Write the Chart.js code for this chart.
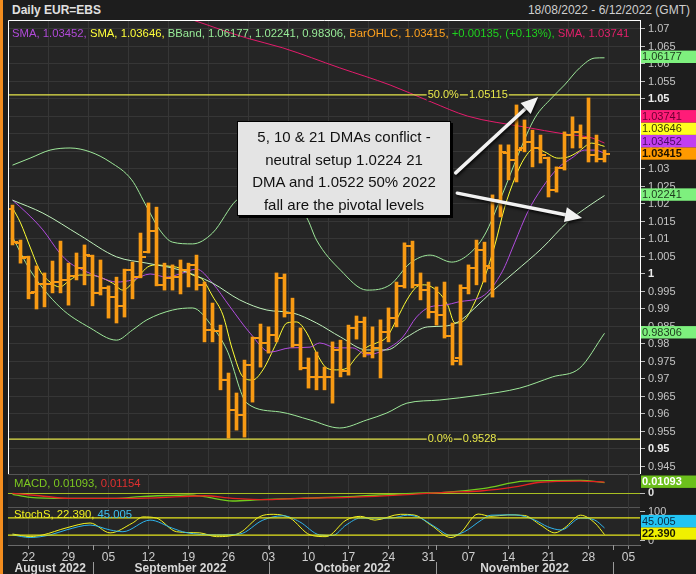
<!DOCTYPE html>
<html>
<head>
<meta charset="utf-8">
<script src="https://cdn.jsdelivr.net/npm/chart.js@4.4.1/dist/chart.umd.min.js"></script>
<style>
  html, body { margin: 0; padding: 0; }
  body { width: 696px; height: 574px; background: #1d1d1d; position: relative; overflow: hidden;
         font-family: "Liberation Sans", Arial, sans-serif; }
  .abs { position: absolute; white-space: nowrap; }
  canvas { position: absolute; left: 8px; }
  #stripe { left: 0; top: 0; width: 3px; height: 574px; background: #f28c1e; }
  #title { left: 12px; top: 3px; font-size: 12px; font-weight: bold; color: #e0e0e0; }
  #range { right: 6px; top: 3px; font-size: 12px; color: #cfcfcf; }
  #legend { left: 12px; top: 27px; font-size: 11.3px; }
  #macdLegend { left: 14px; top: 477px; font-size: 11.3px; }
  #stochLegend { left: 14px; top: 508px; font-size: 11.3px; }
  #note { left: 237px; top: 121px; width: 214px; height: 95px; box-sizing: border-box;
          background: #e4e4e4; border: 1px solid #000; box-shadow: 2px 2px 0 #000;
          color: #111; font-size: 15px; line-height: 22.5px; text-align: center; padding-top: 4px; }
</style>
</head>
<body>
<div id="stripe" class="abs"></div>
<div id="title" class="abs">Daily EUR=EBS</div>
<div id="range" class="abs">18/08/2022 - 6/12/2022 (GMT)</div>

<canvas id="main" width="688" height="454" style="top:20px"></canvas>
<canvas id="macd" width="688" height="33" style="top:474px"></canvas>
<canvas id="stoch" width="688" height="67" style="top:507px"></canvas>

<div id="legend" class="abs">
  <span style="color:#b04ad8">SMA, 1.03452,</span>
  <span style="color:#ffff3a">SMA, 1.03646,</span>
  <span style="color:#98ec98">BBand, 1.06177, 1.02241, 0.98306,</span>
  <span style="color:#ffa21e">BarOHLC, 1.03415,</span>
  <span style="color:#1fd21f">+0.00135, (+0.13%),</span>
  <span style="color:#e0206a">SMA, 1.03741</span>
</div>
<div id="macdLegend" class="abs"><span style="color:#7cc820">MACD, 0.01093,</span> <span style="color:#e03030">0.01154</span></div>
<div id="stochLegend" class="abs"><span style="color:#f0f020">StochS, 22.390,</span> <span style="color:#3cc0f0">45.005</span></div>

<div id="note" class="abs">5, 10 &amp; 21 DMAs conflict -<br>neutral setup 1.0224 21<br>DMA and 1.0522 50% 2022<br>fall are the pivotal levels</div>

<script>
// ---- data (bar index 0 = 18 Aug 2022, one step per trading day) ----
const weekTickIdx = [2, 7, 12, 17, 22, 27, 32, 37, 42, 47, 52, 57, 62, 67, 72, 77];
const weekTickLabels = ['22', '29', '05', '12', '19', '26', '03', '10', '17', '24', '31', '07', '14', '21', '28', '05'];
const monthNames = ['August 2022', 'September 2022', 'October 2022', 'November 2022'];
const monthStartIdx = [-2, 10, 32, 53, 75];

const ohlcOpen = [1.0186, 1.0089, 1.0049, 0.9949, 0.9971, 0.9971, 0.9977, 0.9983, 0.9994, 1.0017,
  1.0051, 0.9946, 0.9960, 0.9934, 0.9909, 1.0011, 0.9991, 1.0063, 1.0123, 0.9969,
  0.9989, 0.9991, 1.0011, 1.0026, 0.9969, 0.9840, 0.9837, 0.9697, 0.9611, 0.9597,
  0.9740, 0.9817, 0.9803, 0.9826, 0.9989, 0.9889, 0.9797, 0.9731, 0.9706, 0.9706,
  0.9706, 0.9783, 0.9723, 0.9846, 0.9863, 0.9774, 0.9789, 0.9834, 0.9874, 0.9966,
  1.0080, 0.9969, 0.9954, 0.9891, 0.9883, 0.9823, 0.9760, 0.9960, 1.0017, 1.0069,
  1.0017, 1.0211, 1.0346, 1.0326, 1.0360, 1.0377, 1.0360, 1.0331, 1.0240, 1.0303,
  1.0397, 1.0406, 1.0389, 1.0340, 1.0328];
const ohlcHigh = [1.0197, 1.0097, 1.0051, 1.0023, 1.0003, 1.0037, 1.0094, 1.0031, 1.0060, 1.0083,
  1.0054, 1.0040, 0.9966, 0.9991, 1.0014, 1.0034, 1.0117, 1.0203, 1.0191, 1.0031,
  1.0026, 1.0040, 1.0031, 1.0054, 0.9977, 0.9917, 0.9854, 0.9717, 0.9660, 0.9754,
  0.9820, 0.9857, 0.9849, 1.0003, 1.0000, 0.9931, 0.9846, 0.9760, 0.9777, 0.9734,
  0.9806, 0.9811, 0.9854, 0.9880, 0.9877, 0.9849, 0.9869, 0.9903, 0.9977, 1.0089,
  1.0094, 1.0003, 0.9977, 0.9963, 0.9977, 0.9860, 0.9969, 1.0026, 1.0097, 1.0091,
  1.0226, 1.0369, 1.0369, 1.0483, 1.0440, 1.0411, 1.0397, 1.0334, 1.0306, 1.0406,
  1.0449, 1.0426, 1.0503, 1.0397, 1.0354];
const ohlcLow = [1.0083, 1.0031, 0.9929, 0.9900, 0.9906, 0.9946, 0.9946, 0.9911, 0.9983, 0.9969,
  0.9909, 0.9940, 0.9874, 0.9860, 0.9877, 0.9929, 0.9989, 1.0060, 0.9966, 0.9954,
  0.9954, 0.9943, 0.9963, 0.9954, 0.9806, 0.9806, 0.9669, 0.9531, 0.9554, 0.9534,
  0.9634, 0.9734, 0.9774, 0.9806, 0.9877, 0.9791, 0.9726, 0.9674, 0.9669, 0.9669,
  0.9631, 0.9706, 0.9711, 0.9814, 0.9763, 0.9760, 0.9703, 0.9806, 0.9849, 0.9960,
  0.9960, 0.9926, 0.9874, 0.9854, 0.9817, 0.9740, 0.9740, 0.9943, 0.9969, 0.9977,
  0.9934, 1.0163, 1.0269, 1.0263, 1.0349, 1.0306, 1.0317, 1.0220, 1.0234, 1.0297,
  1.0360, 1.0360, 1.0320, 1.0320, 1.0320];
const ohlcClose = [1.0091, 1.0046, 0.9946, 0.9971, 0.9971, 0.9977, 0.9983, 0.9994, 1.0017, 1.0054,
  0.9946, 0.9960, 0.9934, 0.9909, 1.0011, 0.9991, 1.0049, 1.0123, 0.9969, 0.9989,
  0.9991, 1.0011, 1.0026, 0.9969, 0.9840, 0.9837, 0.9697, 0.9611, 0.9597, 0.9740,
  0.9817, 0.9803, 0.9826, 0.9989, 0.9889, 0.9797, 0.9731, 0.9706, 0.9706, 0.9706,
  0.9783, 0.9723, 0.9846, 0.9863, 0.9774, 0.9789, 0.9834, 0.9874, 0.9966, 1.0080,
  0.9969, 0.9954, 0.9891, 0.9883, 0.9823, 0.9751, 0.9960, 1.0017, 1.0069, 1.0023,
  1.0211, 1.0349, 1.0326, 1.0354, 1.0377, 1.0360, 1.0340, 1.0240, 1.0303, 1.0397,
  1.0406, 1.0389, 1.0340, 1.0328, 1.03415];

const bbUpperIdx = [0, 2.2, 4.7, 7.2, 9.7, 12.2, 14.9, 16.8, 18.4, 20, 22.5, 25, 28, 31, 34, 36.8, 38, 41, 44.3, 47.2, 49.7, 52.2, 54.9, 56.9, 59, 61.2, 63.2, 65.3, 67.4, 69, 70.9, 72.8, 74];
const bbUpperVal = [1.0311, 1.0331, 1.0354, 1.0360, 1.0349, 1.0320, 1.0269, 1.0191, 1.0126, 1.0091, 1.0086, 1.0117, 1.0211, 1.0240, 1.0226, 1.0160, 1.0097, 1.0011, 0.9954, 0.9969, 1.0031, 1.0054, 1.0034, 1.0054, 1.0111, 1.0226, 1.0340, 1.0446, 1.0503, 1.0540, 1.0589, 1.0617, 1.06177];
const bbMidIdx = [0, 3.8, 8.4, 13, 16.8, 21, 25, 28.4, 31.8, 35, 38, 41, 44.3, 46.8, 49.3, 51.9, 54, 55.7, 57.8, 59.9, 62.8, 66.2, 69.4, 72.2, 74];
const bbMidVal = [1.0211, 1.0174, 1.0111, 1.0049, 1.0031, 1.0011, 0.9974, 0.9926, 0.9897, 0.9889, 0.9860, 0.9820, 0.9783, 0.9783, 0.9820, 0.9849, 0.9851, 0.9863, 0.9903, 0.9949, 1.0006, 1.0074, 1.0149, 1.0197, 1.02241];
const bbLowerIdx = [0, 2.2, 5.9, 9.7, 13, 15, 16.8, 20, 22.5, 25, 26.8, 29.3, 33.4, 37.2, 40.9, 44.3, 46.8, 49.3, 53.4, 58.4, 63.4, 67.5, 70.9, 74];
const bbLowerVal = [1.0106, 1.0011, 0.9906, 0.9846, 0.9811, 0.9840, 0.9869, 0.9897, 0.9903, 0.9849, 0.9783, 0.9631, 0.9606, 0.9583, 0.9560, 0.9583, 0.9603, 0.9631, 0.9640, 0.9654, 0.9674, 0.9706, 0.9731, 0.98306];

const sma10Idx = [0, 1.8, 3.8, 5.9, 7.2, 8.8, 10.9, 13, 15, 17.2, 19.3, 20.9, 23, 25, 27.2, 29.7, 32.2, 34.7, 37.2, 38.4, 40.5, 42.5, 44.3, 45.5, 47.2, 48.8, 50.5, 52.2, 54, 55.7, 59, 61.2, 62.8, 64.4, 66.2, 68.2, 69.9, 71.5, 72.8, 74];
const sma10Val = [1.0211, 1.0174, 1.0126, 1.0060, 1.0031, 1.0011, 0.9991, 0.9977, 0.9983, 1.0000, 0.9991, 1.0000, 1.0014, 0.9974, 0.9906, 0.9831, 0.9777, 0.9789, 0.9791, 0.9803, 0.9789, 0.9789, 0.9769, 0.9774, 0.9791, 0.9820, 0.9877, 0.9906, 0.9911, 0.9920, 0.9940, 1.0006, 1.0091, 1.0177, 1.0246, 1.0303, 1.0331, 1.0354, 1.0354, 1.03452];
const sma5Idx = [0, 1, 2.2, 3.4, 4.7, 5.9, 7.2, 8.4, 9.7, 10.9, 12.5, 13.8, 15, 15.9, 16.9, 18, 19.3, 20.9, 22.5, 23.8, 25, 26.3, 27.5, 28.8, 30, 31.3, 33, 34.3, 35.5, 36.8, 38, 39.3, 40.5, 41.8, 43, 44.3, 45.5, 46.8, 48, 49.3, 50.5, 51.5, 53.2, 54.4, 55.3, 56.2, 57.8, 59, 60.3, 61.5, 62.8, 64, 65.3, 66.5, 68.2, 69.4, 70.7, 72.4, 74];
const sma5Val = [1.0189, 1.0146, 1.0077, 1.0011, 0.9977, 0.9963, 0.9983, 0.9997, 0.9997, 0.9991, 0.9974, 0.9954, 0.9974, 0.9997, 1.0020, 1.0026, 1.0023, 1.0017, 0.9997, 0.9983, 0.9937, 0.9883, 0.9783, 0.9706, 0.9697, 0.9726, 0.9803, 0.9860, 0.9863, 0.9831, 0.9774, 0.9731, 0.9726, 0.9731, 0.9763, 0.9791, 0.9803, 0.9820, 0.9869, 0.9926, 0.9963, 0.9969, 0.9949, 0.9911, 0.9860, 0.9863, 0.9920, 0.9989, 1.0083, 1.0189, 1.0274, 1.0331, 1.0360, 1.0349, 1.0331, 1.0334, 1.0349, 1.0374, 1.03646];
const sma200Idx = [22.5, 29.3, 33.8, 40.9, 47.2, 52.4, 56.9, 64, 69, 72.4, 74];
const sma200Val = [1.0726, 1.0674, 1.0646, 1.0589, 1.0540, 1.0491, 1.0451, 1.0420, 1.0400, 1.0389, 1.03741];

const fibLevels = [1.05115, 0.9528];
const fibNames = ['50.0%', '0.0%'];
const fibText = ['1.05115', '0.9528'];
const fibLabelIdx = 51.9;

const macdIdx = [0, 2.2, 6.8, 13, 16, 22, 24, 27.5, 31, 36, 42, 50, 54, 59, 64, 71, 74];
const macdVal = [-0.0014, -0.0046, -0.0056, -0.0056, -0.0039, -0.0021, -0.0039, -0.0085, -0.0071, -0.0056, -0.0039, -0.0003, 0.0007, 0.0050, 0.0127, 0.0135, 0.01093];
const signalIdx = [0, 3.4, 7, 15, 21, 24, 27.5, 32, 36, 42, 50, 54, 58.5, 63, 66, 71, 74];
const signalVal = [-0.0003, -0.0029, -0.0056, -0.0056, -0.0039, -0.0029, -0.0056, -0.0071, -0.0056, -0.0046, -0.0014, 0.0007, 0.0021, 0.0067, 0.0114, 0.0127, 0.01154];

const stochKIdx = [0, 2.2, 3.8, 6.7, 9.7, 12.2, 15, 16.3, 18, 20.5, 23.4, 25.5, 28.4, 30.9, 32.6, 34.7, 37.2, 39.2, 41.7, 43.5, 45.3, 48.5, 50.3, 52.3, 54.8, 56, 58.2, 59.8, 61.9, 64, 66, 67.8, 69, 71, 72.8, 74];
const stochKVal = [24, 15, 21, 45, 62, 28, 62, 83, 79, 32, 28, 15, 28, 84, 92, 79, 21, 15, 72, 85, 72, 92, 89, 55, 12, 28, 93, 85, 90, 88, 55, 28, 45, 89, 62, 22.39];
const stochDIdx = [0, 2.2, 4.7, 6.7, 9.7, 12.2, 13.8, 17.2, 20, 21.7, 25.5, 28.4, 31.3, 33.8, 35.9, 38.4, 40, 41.7, 43.5, 47.3, 49.4, 51, 52.8, 54.8, 56.5, 58.6, 59.8, 62.8, 65.3, 66.9, 68.6, 71, 72.8, 74];
const stochDVal = [21, 12, 21, 38, 55, 38, 32, 72, 44, 29, 21, 24, 72, 87, 66, 21, 19, 55, 79, 79, 89, 79, 49, 19, 32, 72, 89, 90, 72, 49, 38, 79, 72, 45.005];
const stochLevels = [80, 20];

// ---- look ----
const xMin = -0.5625, xMax = 78.4375;
const PLOT_BG = '#252525', GRID = '#363636', ORANGE = '#f79a14';
const FONT = '"Liberation Sans", Arial, sans-serif';
Chart.defaults.font.family = FONT;
Chart.defaults.animation = false;

const pts = (idx, val) => idx.map((x, k) => ({ x, y: val[k] }));
const last = arr => arr[arr.length - 1];
const isMajor = c => c && c.tick && Math.abs(c.tick.value * 20 - Math.round(c.tick.value * 20)) < 1e-6;

function tickImage(side) {
  const c = document.createElement('canvas');
  c.width = 11; c.height = 2;
  const g = c.getContext('2d');
  g.fillStyle = ORANGE;
  g.fillRect(side === 'L' ? 0 : 7, 0, 4, 2);
  return c;
}

function line(data, color, width) {
  return { type: 'line', data, borderColor: color, borderWidth: width || 1, pointRadius: 0,
           cubicInterpolationMode: 'monotone', fill: false, order: 2 };
}

function noPad(s) { s.paddingTop = 0; s.paddingBottom = 0; s.paddingLeft = 0; s.paddingRight = 0; }

function xAxis(withLabels) {
  return {
    type: 'linear', min: xMin, max: xMax, offset: false,
    afterBuildTicks: s => { s.ticks = weekTickIdx.map(v => ({ value: v })); },
    afterFit: s => { noPad(s); s.height = withLabels ? 29 : 0; },
    grid: { color: GRID, drawTicks: withLabels, tickLength: 4, tickColor: '#8a8a8a' },
    border: { display: withLabels, color: '#6a6a6a' },
    ticks: {
      display: withLabels, autoSkip: false, maxRotation: 0, padding: 1,
      color: '#cfcfcf', font: { size: 12 },
      callback: v => { const k = weekTickIdx.indexOf(v); return k >= 0 ? weekTickLabels[k] : ''; }
    }
  };
}

const plotBg = {
  id: 'plotBg',
  beforeDraw(chart, args, opts) {
    const { ctx, chartArea: a } = chart;
    ctx.save();
    ctx.fillStyle = PLOT_BG;
    ctx.fillRect(a.left, a.top, a.width, a.height);
    if (opts.topLine) {
      ctx.strokeStyle = opts.topLine; ctx.lineWidth = 1;
      ctx.beginPath(); ctx.moveTo(a.left, a.top + 0.5); ctx.lineTo(a.right, a.top + 0.5); ctx.stroke();
    }
    ctx.restore();
  }
};

const valueBoxes = {
  id: 'valueBoxes',
  afterDraw(chart, args, opts) {
    const items = (opts.items || []).slice().sort((a, b) => a.v - b.v);
    const { ctx } = chart, ys = chart.scales.y, h = 12.4;
    const left = chart.chartArea.right + 1;
    let prev = Infinity;
    ctx.save();
    items.forEach(it => {
      const y = Math.min(ys.getPixelForValue(it.v) - 1, prev - h);
      prev = y;
      ctx.fillStyle = it.bg;
      ctx.fillRect(left, y - h / 2, chart.width - left, h);
      ctx.fillStyle = it.fg;
      ctx.font = (it.bold ? 'bold ' : '') + '11px ' + FONT;
      ctx.textBaseline = 'middle';
      ctx.fillText(it.label, left + 1, y + 0.5);
    });
    ctx.restore();
  }
};

function drawArrow(ctx, x0, y0, x1, y1) {
  const ang = Math.atan2(y1 - y0, x1 - x0), head = 17, half = 7.5;
  const bx = x1 - head * Math.cos(ang), by = y1 - head * Math.sin(ang);
  ctx.save();
  ctx.shadowColor = 'rgba(0,0,0,0.8)'; ctx.shadowBlur = 3; ctx.shadowOffsetX = 1; ctx.shadowOffsetY = 2;
  ctx.strokeStyle = '#f2f2f2'; ctx.fillStyle = '#f2f2f2';
  ctx.lineWidth = 3.5; ctx.lineCap = 'round';
  ctx.beginPath(); ctx.moveTo(x0, y0); ctx.lineTo(bx, by); ctx.stroke();
  ctx.beginPath();
  ctx.moveTo(x1, y1);
  ctx.lineTo(bx + half * Math.sin(ang), by - half * Math.cos(ang));
  ctx.lineTo(bx - half * Math.sin(ang), by + half * Math.cos(ang));
  ctx.closePath(); ctx.fill();
  ctx.restore();
}

// arrows in data units: [fromIdx, fromPrice, toIdx, toPrice]
const arrows = [[55.4, 1.0289, 65.7, 1.0506], [55.6, 1.0231, 71.2, 1.0160]];

const mainOverlay = {
  id: 'mainOverlay',
  afterDatasetsDraw(chart) {
    const { ctx, chartArea: a, scales: { x, y } } = chart;
    ctx.save();
    ctx.font = '11px ' + FONT; ctx.textBaseline = 'middle';
    fibLevels.forEach((lv, k) => {
      const py = y.getPixelForValue(lv), px = x.getPixelForValue(fibLabelIdx);
      const w1 = ctx.measureText(fibNames[k]).width, w2 = ctx.measureText(fibText[k]).width;
      const x2 = px + w1 + 10;
      ctx.fillStyle = PLOT_BG;
      ctx.fillRect(px - 1, py - 6, w1 + 2, 12);
      ctx.fillRect(x2 - 1, py - 6, w2 + 2, 12);
      ctx.fillStyle = '#e8e84a';
      ctx.fillText(fibNames[k], px, py);
      ctx.fillText(fibText[k], x2, py);
    });
    arrows.forEach(([i0, p0, i1, p1]) =>
      drawArrow(ctx, x.getPixelForValue(i0), y.getPixelForValue(p0), x.getPixelForValue(i1), y.getPixelForValue(p1)));
    ctx.strokeStyle = '#ffffff'; ctx.lineWidth = 1;
    ctx.beginPath();
    ctx.moveTo(a.left + 0.5, a.bottom); ctx.lineTo(a.left + 0.5, a.top + 0.5); ctx.lineTo(a.right, a.top + 0.5);
    ctx.stroke();
    ctx.restore();
  }
};

const monthRow = {
  id: 'monthRow',
  afterDraw(chart) {
    const { ctx, chartArea: a, scales: { x } } = chart;
    ctx.save();
    ctx.font = 'bold 12px ' + FONT; ctx.fillStyle = '#d8d8d8';
    ctx.textAlign = 'center'; ctx.textBaseline = 'middle';
    monthNames.forEach((m, k) => {
      const l = Math.max(a.left, x.getPixelForValue(monthStartIdx[k]));
      const r = Math.min(a.right, x.getPixelForValue(monthStartIdx[k + 1]));
      ctx.fillText(m, (l + r) / 2, 62);
    });
    ctx.strokeStyle = '#9a9a9a'; ctx.lineWidth = 1;
    monthStartIdx.slice(1).forEach(v => {
      const px = Math.round(x.getPixelForValue(v)) + 0.5;
      ctx.beginPath();
      ctx.moveTo(px, a.bottom); ctx.lineTo(px, a.bottom + 5);
      ctx.moveTo(px, 55); ctx.lineTo(px, 67);
      ctx.stroke();
    });
    ctx.restore();
  }
};

function yAxis(opts) {
  return Object.assign({
    type: 'linear', position: 'right',
    afterFit: s => { noPad(s); s.width = 56; },
    border: { display: false },
    grid: { drawOnChartArea: false, tickLength: 5, tickColor: '#bdbdbd' },
    ticks: { padding: 3, color: '#c8c8c8', font: { size: 11 } }
  }, opts);
}

const base = { responsive: false, devicePixelRatio: 1, events: [],
  layout: { padding: 0, autoPadding: false },
  plugins: { legend: { display: false }, tooltip: { enabled: false } } };

// ---- main price panel ----
new Chart(document.getElementById('main'), {
  type: 'line',
  data: {
    datasets: [
      ...fibLevels.map(lv => line([{ x: xMin, y: lv }, { x: xMax, y: lv }], '#e6e64a', 1.2)),
      line(pts(sma200Idx, sma200Val), '#e41b6c'),
      line(pts(bbUpperIdx, bbUpperVal), '#9ee89a'),
      line(pts(bbMidIdx, bbMidVal), '#bff0bb'),
      line(pts(bbLowerIdx, bbLowerVal), '#9ee89a'),
      line(pts(sma10Idx, sma10Val), '#b24ce0'),
      line(pts(sma5Idx, sma5Val), '#ffff33'),
      { type: 'bar', data: ohlcHigh.map((h, i) => ({ x: i, y: [ohlcLow[i], h] })),
        backgroundColor: ORANGE, borderWidth: 0, barThickness: 3, grouped: false, order: 0 },
      { type: 'line', data: ohlcOpen.map((o, i) => ({ x: i, y: o })), showLine: false,
        pointStyle: tickImage('L'), pointRadius: 3, order: 0 },
      { type: 'line', data: ohlcClose.map((c, i) => ({ x: i, y: c })), showLine: false,
        pointStyle: tickImage('R'), pointRadius: 3, order: 0 }
    ]
  },
  options: Object.assign({}, base, {
    scales: {
      x: xAxis(false),
      y: yAxis({
        min: 0.942857, max: 1.072571,
        border: { display: true, color: '#ffffff' },
        grid: { color: GRID, tickLength: 5, tickColor: '#bdbdbd' },
        ticks: {
          stepSize: 0.005, includeBounds: false, autoSkip: false, padding: 3,
          color: c => isMajor(c) ? '#ececec' : '#c4c4c4',
          font: c => ({ size: 11, weight: isMajor(c) ? 'bold' : 'normal' }),
          callback: v => String(parseFloat(Number(v).toFixed(3)))
        }
      })
    },
    plugins: Object.assign({}, base.plugins, {
      valueBoxes: { items: [
        { v: last(bbUpperVal), label: last(bbUpperVal).toFixed(5), bg: '#7ef07e', fg: '#1d3a1d' },
        { v: last(sma200Val), label: last(sma200Val).toFixed(5), bg: '#ff1c78', fg: '#6a0030' },
        { v: last(sma5Val), label: last(sma5Val).toFixed(5), bg: '#ffff1e', fg: '#3a3a00' },
        { v: last(sma10Val), label: last(sma10Val).toFixed(5), bg: '#c23ef0', fg: '#4a0a66' },
        { v: last(ohlcClose), label: last(ohlcClose).toFixed(5), bg: '#ff9a00', fg: '#1a1000', bold: true },
        { v: last(bbMidVal), label: last(bbMidVal).toFixed(5), bg: '#7ef07e', fg: '#1d3a1d' },
        { v: last(bbLowerVal), label: last(bbLowerVal).toFixed(5), bg: '#7ef07e', fg: '#1d3a1d' }
      ] }
    })
  }),
  plugins: [plotBg, mainOverlay, valueBoxes]
});

// ---- MACD panel ----
new Chart(document.getElementById('macd'), {
  type: 'line',
  data: { datasets: [
    line(pts(signalIdx, signalVal), '#e42222', 1.3),
    line(pts(macdIdx, macdVal), '#72cc1c', 1.3)
  ] },
  options: Object.assign({}, base, {
    scales: {
      x: xAxis(false),
      y: yAxis({
        min: -0.01486, max: 0.02017,
        afterBuildTicks: s => { s.ticks = [{ value: 0 }]; },
        grid: { drawOnChartArea: true, color: '#a9bf22', tickLength: 5, tickColor: '#bdbdbd' },
        ticks: { padding: 3, color: '#e0e0e0', font: { size: 11, weight: 'bold' }, callback: () => '0' }
      })
    },
    plugins: Object.assign({}, base.plugins, {
      plotBg: { topLine: '#555555' },
      valueBoxes: { items: [{ v: last(macdVal), label: last(macdVal).toFixed(5), bg: '#6cbf1c', fg: '#ffffff', bold: true }] }
    })
  }),
  plugins: [plotBg, valueBoxes]
});

// ---- Stochastics panel ----
new Chart(document.getElementById('stoch'), {
  type: 'line',
  data: { datasets: [
    ...stochLevels.map(lv => line([{ x: xMin, y: lv }, { x: xMax, y: lv }], '#e6e61e', 1.3)),
    line(pts(stochDIdx, stochDVal), '#2fb4ec'),
    line(pts(stochKIdx, stochKVal), '#f4f41e')
  ] },
  options: Object.assign({}, base, {
    scales: {
      x: xAxis(true),
      y: yAxis({
        min: -13.8, max: 117.2,
        afterBuildTicks: s => { s.ticks = [{ value: 0 }, { value: 100 }]; },
        ticks: { padding: 3, color: '#c4c4c4', font: { size: 11 }, callback: v => String(v) }
      })
    },
    plugins: Object.assign({}, base.plugins, {
      plotBg: { topLine: '#555555' },
      valueBoxes: { items: [
        { v: last(stochDVal), label: last(stochDVal).toFixed(3), bg: '#22c4f4', fg: '#0a2a40' },
        { v: last(stochKVal), label: last(stochKVal).toFixed(3), bg: '#f0f000', fg: '#1a1a00', bold: true }
      ] }
    })
  }),
  plugins: [plotBg, valueBoxes, monthRow]
});
</script>
</body>
</html>
